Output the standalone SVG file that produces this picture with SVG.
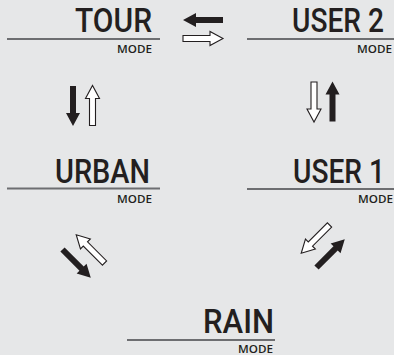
<svg xmlns="http://www.w3.org/2000/svg" xmlns:xlink="http://www.w3.org/1999/xlink" width="394" height="355" viewBox="0 0 394 355">
<style>
.t{fill:#231f20;text-anchor:end}
.big{font-family:Roboto,"Liberation Sans",sans-serif;font-size:33.5px;font-weight:500}
.sm{font-family:"Open Sans","Noto Sans","Liberation Sans",sans-serif;font-size:10.5px;font-weight:600}
.ln{stroke:#6d6e71;stroke-width:2;fill:none}
.blk{fill:#231f20}
.wht{fill:#ffffff;stroke:#231f20;stroke-width:1.1}
</style>
<defs>
<polygon id="arr" points="0,-3 27,-3 27,-7 40,0 27,7 27,3 0,3"/>
</defs>
<rect width="394" height="355" fill="#e6e7e8"/>
<g id="tour">
<text class="t big" transform="translate(152,32) scale(0.89,1)" textLength="86.5" lengthAdjust="spacingAndGlyphs">TOUR</text>
<line class="ln" x1="7" y1="39" x2="160" y2="39"/>
<text class="t sm" x="152" y="53" textLength="35" lengthAdjust="spacingAndGlyphs">MODE</text>
</g>
<g id="user2">
<text class="t big" transform="translate(384,32) scale(0.845,1)" textLength="108.9" lengthAdjust="spacingAndGlyphs">USER 2</text>
<line class="ln" x1="247" y1="39" x2="394" y2="39"/>
<text class="t sm" x="392" y="53" textLength="35" lengthAdjust="spacingAndGlyphs">MODE</text>
</g>
<g id="urban">
<text class="t big" transform="translate(150,183) scale(0.86,1)" textLength="110.5" lengthAdjust="spacingAndGlyphs">URBAN</text>
<line class="ln" x1="7" y1="188.5" x2="160" y2="188.5"/>
<text class="t sm" x="152" y="203" textLength="35" lengthAdjust="spacingAndGlyphs">MODE</text>
</g>
<g id="user1">
<text class="t big" transform="translate(385,183) scale(0.845,1)" textLength="108.9" lengthAdjust="spacingAndGlyphs">USER 1</text>
<line class="ln" x1="247" y1="189" x2="394" y2="189"/>
<text class="t sm" x="393" y="203" textLength="35" lengthAdjust="spacingAndGlyphs">MODE</text>
</g>
<g id="rain">
<text class="t big" transform="translate(274,333) scale(0.93,1)" textLength="76.3" lengthAdjust="spacingAndGlyphs">RAIN</text>
<line class="ln" x1="127" y1="340" x2="275" y2="340"/>
<text class="t sm" x="273" y="353" textLength="35" lengthAdjust="spacingAndGlyphs">MODE</text>
</g>
<g id="connectors">
<use xlink:href="#arr" class="blk" transform="translate(223,20) rotate(180)"/>
<use xlink:href="#arr" class="wht" transform="translate(183,38.5)"/>
<use xlink:href="#arr" class="blk" transform="translate(73,86) rotate(90)"/>
<use xlink:href="#arr" class="wht" transform="translate(92.5,125.5) rotate(-90)"/>
<use xlink:href="#arr" class="wht" transform="translate(314,82) rotate(90)"/>
<use xlink:href="#arr" class="blk" transform="translate(332.5,121.5) rotate(-90)"/>
<use xlink:href="#arr" class="blk" transform="translate(62.5,249.5) rotate(45)"/>
<use xlink:href="#arr" class="wht" transform="translate(104.5,263) rotate(225)"/>
<use xlink:href="#arr" class="wht" transform="translate(329.5,225) rotate(135)"/>
<use xlink:href="#arr" class="blk" transform="translate(316.5,267.5) rotate(-45)"/>
</g>
</svg>
